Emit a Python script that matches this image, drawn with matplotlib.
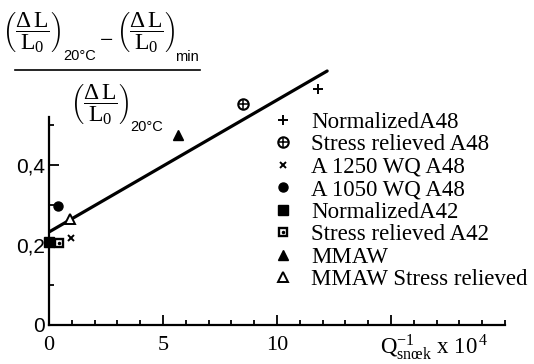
import matplotlib
matplotlib.use("Agg")
import matplotlib.pyplot as plt
from matplotlib.lines import Line2D
from matplotlib.ticker import MultipleLocator, FixedLocator, FixedFormatter

plt.rcParams['font.family'] = ['Liberation Serif', 'DejaVu Serif']
plt.rcParams['mathtext.fontset'] = 'custom'
plt.rcParams['mathtext.rm'] = 'Liberation Serif'
plt.rcParams['mathtext.it'] = 'Liberation Serif:italic'
plt.rcParams['mathtext.sf'] = 'Liberation Sans'

# values
norm_a48_x, norm_a48_y = [11.8], [0.59]
sr_a48_x, sr_a48_y = [8.5], [0.5525]
a1250_x, a1250_y = [0.96], [0.2175]
a1050_x, a1050_y = [0.4], [0.2975]
norm_a42_x, norm_a42_y = [0.0], [0.2075]
sr_a42_x, sr_a42_y = [0.44], [0.205]
mmaw_x, mmaw_y = [5.66], [0.475]
mmaw_sr_x, mmaw_sr_y = [0.9], [0.265]
fit_x = [0.0, 12.2]
fit_y = [0.2325, 0.635]

xtick_vals = [0, 5, 10]
xtick_text = ['0', '5', '10']
ytick_vals = [0, 0.2, 0.4]
ytick_text = ['0', '0,2', '0,4']

W, H = 534, 364
fig = plt.figure(figsize=(W / 100, H / 100), dpi=100)
ax = fig.add_axes([49/W, 39/H, 456/W, 325/H])
ax.set_xlim(0, 20)
ax.set_ylim(0, 0.8125)

ax.plot(fit_x, fit_y, color='black', lw=2.3, solid_capstyle='round')

ms = 6.5
h1, = ax.plot(norm_a48_x, norm_a48_y, '+', color='black', ms=ms, mew=1.4)
h2a, = ax.plot(sr_a48_x, sr_a48_y, 'o', mfc='white', mec='black', ms=ms+1, mew=1.5)
h2b, = ax.plot(sr_a48_x, sr_a48_y, '+', color='black', ms=ms, mew=1.1)
h3, = ax.plot(a1250_x, a1250_y, 'x', color='black', ms=ms-1.5, mew=1.4)
h4, = ax.plot(a1050_x, a1050_y, 'o', color='black', ms=ms)
h5, = ax.plot(norm_a42_x, norm_a42_y, 's', color='black', ms=ms+0.5, clip_on=False)
h6a, = ax.plot(sr_a42_x, sr_a42_y, 's', mfc='white', mec='black', ms=ms-0.5, mew=1.7)
h6b, = ax.plot(sr_a42_x, sr_a42_y, '.', color='black', ms=3)
h7, = ax.plot(mmaw_x, mmaw_y, '^', color='black', ms=ms)
h8, = ax.plot(mmaw_sr_x, mmaw_sr_y, '^', mfc='white', mec='black', ms=ms, mew=1.4)

labels = ['NormalizedA48', 'Stress relieved A48', 'A 1250 WQ A48', 'A 1050 WQ A48',
          'NormalizedA42', 'Stress relieved A42', 'MMAW', 'MMAW Stress relieved']
ax.legend([h1, (h2a, h2b), h3, h4, h5, (h6a, h6b), h7, h8], labels,
          loc='upper left', bbox_to_anchor=(272/W, 1 - 112/H),
          bbox_transform=fig.transFigure, frameon=False, fontsize=16.5,
          handlelength=1.0, handletextpad=0.7, labelspacing=0.06,
          borderpad=0, borderaxespad=0)

for s in ['top', 'right']:
    ax.spines[s].set_visible(False)
ax.spines['left'].set_bounds(0, 0.52)
ax.spines['left'].set_linewidth(1.6)
ax.spines['bottom'].set_linewidth(1.6)

ax.xaxis.set_major_locator(FixedLocator(xtick_vals + [15]))
ax.xaxis.set_major_formatter(FixedFormatter(xtick_text + ['']))
ax.xaxis.set_minor_locator(MultipleLocator(1))
ax.yaxis.set_major_locator(FixedLocator(ytick_vals))
ax.yaxis.set_major_formatter(FixedFormatter(ytick_text))
ax.yaxis.set_minor_locator(FixedLocator([0.1, 0.3, 0.5]))
ax.tick_params(which='both', direction='in', width=1.3)
ax.tick_params(which='major', length=7)
ax.tick_params(which='minor', length=3.5)
ax.tick_params(axis='x', pad=8, labelsize=16)
ax.tick_params(axis='y', pad=3, labelsize=15)
for t in ax.get_yticklabels():
    t.set_fontfamily('Liberation Sans')

fig.text(434/W, 1 - 347/H,
         r'Q$^{-1}_{\mathrm{snœk}}$ x 10$^{\,4}$', fontsize=16.5, ha='center', va='center')

# y-axis label, built as a stacked fraction
group = r'$\left(\dfrac{\Delta\,\mathrm{L}}{\mathrm{L}_0}\right)$'
fs_g, fs_s = 17, 10.5
fig.text(32/W, 1 - 33/H, group, fontsize=fs_g, ha='center', va='center')
fig.text(63/W, 1 - 56/H, '20°C', fontsize=fs_s, family='Liberation Sans', va='center')
fig.text(106/W, 1 - 39/H, r'$-$', fontsize=fs_g, ha='center', va='center')
fig.text(146/W, 1 - 33/H, group, fontsize=fs_g, ha='center', va='center')
fig.text(175/W, 1 - 57/H, 'min', fontsize=fs_s, family='Liberation Sans', va='center')
fig.add_artist(Line2D([15/W, 200/W], [1 - 70/H, 1 - 70/H], color='black', lw=1.2,
                      transform=fig.transFigure))
fig.text(100/W, 1 - 105/H, group, fontsize=fs_g, ha='center', va='center')
fig.text(130/W, 1 - 127/H, '20°C', fontsize=fs_s, family='Liberation Sans', va='center')

fig.savefig('out.png', dpi=100)
